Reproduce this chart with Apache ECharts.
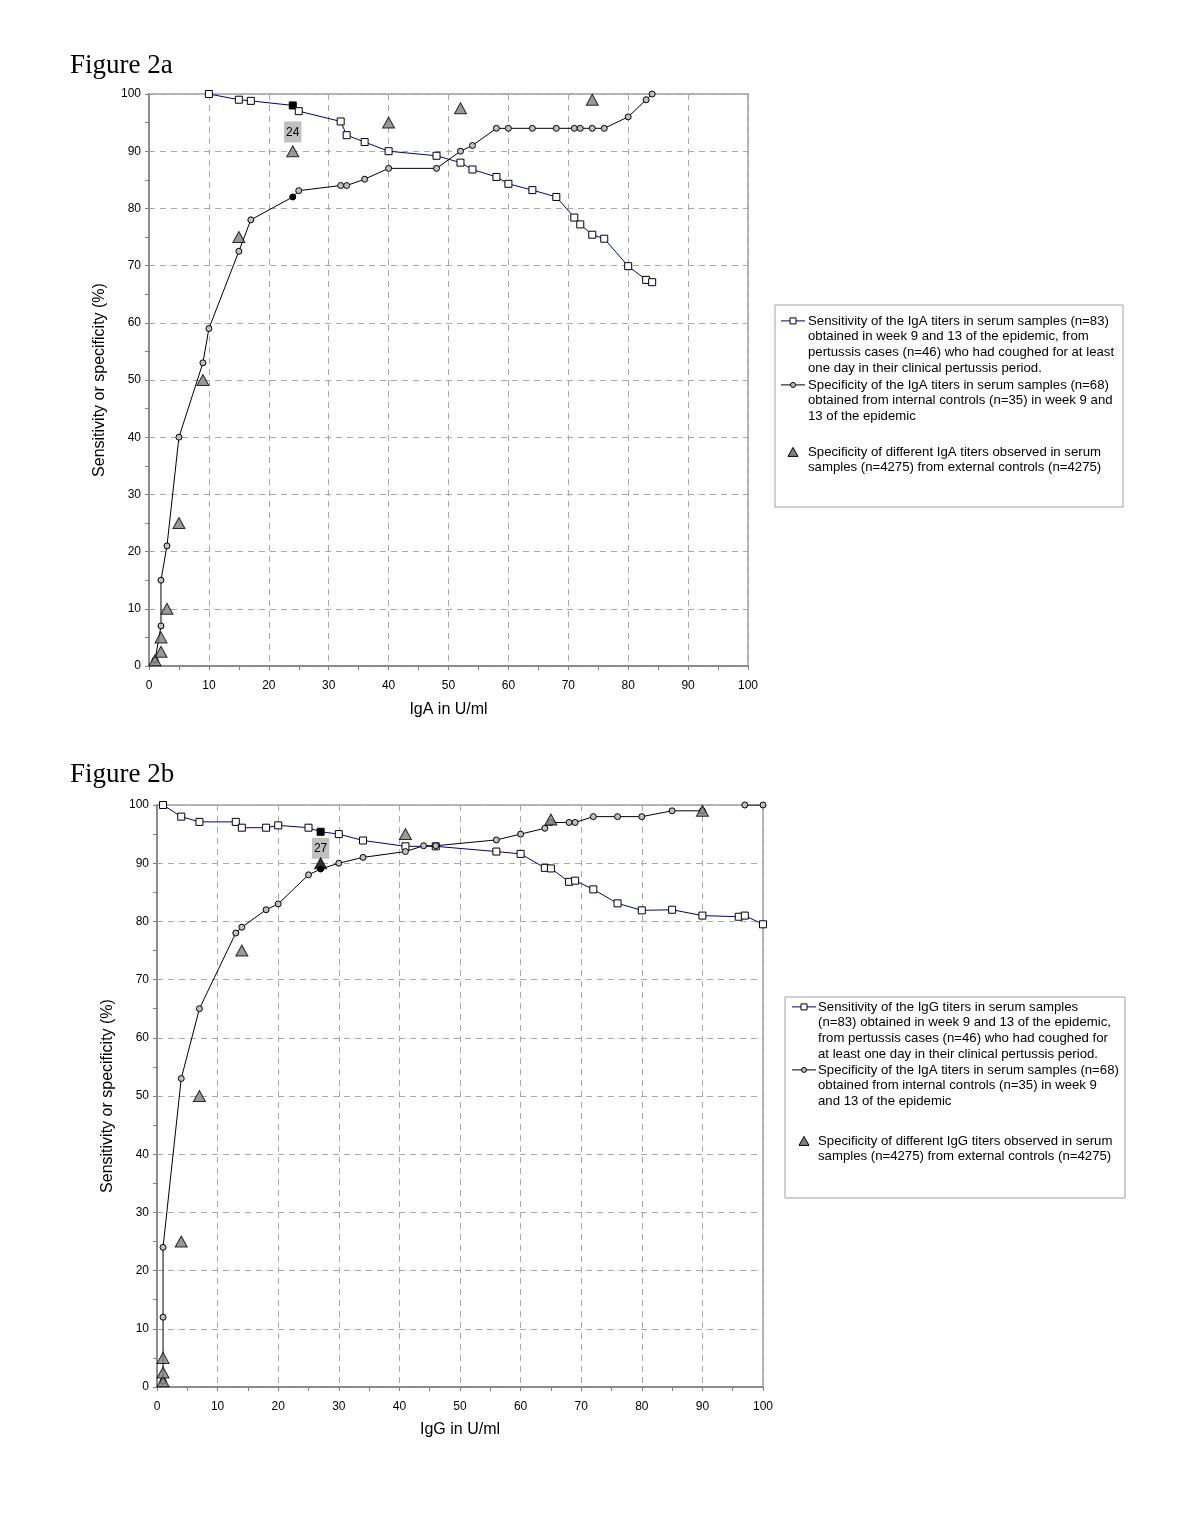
<!DOCTYPE html>
<html>
<head>
<meta charset="utf-8">
<script src="https://cdn.jsdelivr.net/npm/echarts@6/dist/echarts.min.js"></script>
<style>
html,body{margin:0;padding:0;background:#fff;}
#c{width:1200px;height:1532px;}
</style>
</head>
<body>
<div id="c"></div>
<script>
// ---------- Data (Figure 2a: IgA) ----------
const igaSensitivity = [[10,100],[15,99],[17,98.8],[24,98],[25,97],[32,95.2],[33,92.8],[36,91.6],[40,90],[48,89.2],[52,88],[54,86.8],[58,85.5],[60,84.3],[64,83.2],[68,82],[71,78.4],[72,77.2],[74,75.4],[76,74.7],[80,69.9],[83,67.5],[84,67.1]];
const igaSpecificity = [[1,1],[2,7],[2,15],[3,21],[5,40],[9,53],[10,59],[15,72.5],[17,78],[24,82],[25,83.1],[32,84],[33,84],[36,85.1],[40,87],[48,87],[52,90],[54,91],[58,94],[60,94],[64,94],[68,94],[71,94],[72,94],[74,94],[76,94],[80,96],[83,99],[84,100]];
const igaExternal = [[1,1],[2,2.5],[2,5],[3,10],[5,25],[9,50],[15,75],[24,90],[40,95],[52,97.5],[74,99]];
const igaCutoff = 24;

// ---------- Data (Figure 2b: IgG) ----------
const iggSensitivity = [[1,100],[4,98],[7,97.1],[13,97.1],[14,96.1],[18,96.1],[20,96.5],[25,96.1],[27,95.4],[30,95],[34,93.9],[41,92.9],[46,92.9],[56,92],[60,91.6],[64,89.2],[65,89.1],[68,86.8],[69,87],[72,85.5],[76,83.1],[80,81.9],[85,82],[90,81],[96,80.8],[97,81],[100,79.5]];
const iggSpecificity = [[1,1],[1,12],[1,24],[4,53],[7,65],[13,78],[14,79],[18,82],[20,83],[25,88],[27,89],[30,90],[34,91],[41,92],[44,93],[46,93],[56,94],[60,95],[64,96],[65,97],[68,97],[69,97],[72,98],[76,98],[80,98],[85,99],[90,99],null,[97,100],[100,100]];
const iggExternal = [[1,1],[1,2.5],[1,5],[4,25],[7,50],[14,75],[27,90],[41,95],[65,97.5],[90,99]];
const iggCutoff = 27;

// ---------- Axis ticks / texts ----------
const axisMin = 0, axisMax = 100, axisStep = 10;
const titles = ['Figure 2a', 'Figure 2b'];
const xNames = ['IgA in U/ml', 'IgG in U/ml'];
const yName = 'Sensitivity or specificity (%)';
const legendA = [
  ['Sensitivity of the IgA titers in serum samples (n=83)', 'obtained in week 9 and 13 of the epidemic, from', 'pertussis cases (n=46) who had coughed for at least', 'one day in their clinical pertussis period.'],
  ['Specificity of the IgA titers in serum samples (n=68)', 'obtained from internal controls (n=35) in week 9 and', '13 of the epidemic'],
  ['Specificity of different IgA titers observed in serum', 'samples (n=4275) from external controls (n=4275)']
];
const legendB = [
  ['Sensitivity of the IgG titers in serum samples', '(n=83) obtained in week 9 and 13 of the epidemic,', 'from pertussis cases (n=46) who had coughed for', 'at least one day in their clinical pertussis period.'],
  ['Specificity of the IgA titers in serum samples (n=68)', 'obtained from internal controls (n=35) in week 9', 'and 13 of the epidemic'],
  ['Specificity of different IgG titers observed in serum', 'samples (n=4275) from external controls (n=4275)']
];

const FONT = "'Liberation Sans', Arial, sans-serif";
const SERIF = "'Liberation Serif', 'Times New Roman', serif";
const SENS_COLOR = '#000080';

function mapData(arr, cutoff, filledColor, labelCfg) {
  return arr.map(function (d) {
    if (d === null) return '-';
    if (d[0] === cutoff) {
      const item = { value: d, itemStyle: { color: filledColor, borderColor: '#000' } };
      if (labelCfg) item.label = labelCfg;
      return item;
    }
    return d;
  });
}

function cutLabel(cutoff, distance) {
  return {
    show: true, position: 'bottom', distance: distance, formatter: String(cutoff),
    backgroundColor: '#c0c0c0', padding: [5, 2, 4, 2], color: '#000',
    fontFamily: FONT, fontSize: 12
  };
}

function makeX(idx, name, gap) {
  return {
    type: 'value', gridIndex: idx, min: axisMin, max: axisMax, interval: axisStep,
    name: name, nameLocation: 'middle', nameGap: gap,
    nameTextStyle: { fontFamily: FONT, fontSize: 16, color: '#000' },
    axisLine: { show: true, onZero: false, lineStyle: { color: '#808080', width: 1.5 } },
    axisTick: { show: true, length: 4, lineStyle: { color: '#808080' } },
    minorTick: { show: true, splitNumber: 2, length: 4, lineStyle: { color: '#808080' } },
    axisLabel: { fontFamily: FONT, fontSize: 12, color: '#000', margin: 14 },
    splitLine: { show: true, lineStyle: { color: '#a8a8a8', type: [6, 5], width: 1 } }
  };
}
function makeY(idx, gap) {
  return {
    type: 'value', gridIndex: idx, min: axisMin, max: axisMax, interval: axisStep,
    name: yName, nameLocation: 'middle', nameGap: gap, nameRotate: 90,
    nameTextStyle: { fontFamily: FONT, fontSize: 16, color: '#000' },
    axisLine: { show: true, onZero: false, lineStyle: { color: '#808080', width: 1.5 } },
    axisTick: { show: true, length: 4, lineStyle: { color: '#808080' } },
    minorTick: { show: true, splitNumber: 2, length: 4, lineStyle: { color: '#808080' } },
    axisLabel: { fontFamily: FONT, fontSize: 12, color: '#000', margin: 8 },
    splitLine: { show: true, lineStyle: { color: '#a8a8a8', type: [6, 5], width: 1 } }
  };
}

function seriesFor(idx, sens, spec, ext, cutoff, labelDist, blackTriangle) {
  return [
    {
      type: 'line', xAxisIndex: idx, yAxisIndex: idx, z: 3,
      data: mapData(sens, cutoff, '#000', cutLabel(cutoff, labelDist)),
      symbol: 'rect', symbolSize: 7, showAllSymbol: true,
      lineStyle: { color: SENS_COLOR, width: 1 },
      itemStyle: { color: '#fff', borderColor: '#000', borderWidth: 1 },
      animation: false, silent: true
    },
    {
      type: 'line', xAxisIndex: idx, yAxisIndex: idx, z: 4,
      data: mapData(spec, cutoff, '#000'),
      symbol: 'circle', symbolSize: 6, showAllSymbol: true, connectNulls: false,
      lineStyle: { color: '#000', width: 1 },
      itemStyle: { color: '#c0c0c0', borderColor: '#000', borderWidth: 1 },
      animation: false, silent: true
    },
    {
      type: 'scatter', xAxisIndex: idx, yAxisIndex: idx, z: 5,
      data: blackTriangle ? mapData(ext, cutoff, '#000') : ext,
      symbol: 'triangle', symbolSize: [12, 11],
      itemStyle: { color: '#808080', borderColor: '#000', borderWidth: 1 },
      animation: false, silent: true
    }
  ];
}

function legendGraphic(box, iconX, textX, lineTops, lines, lh) {
  const els = [];
  els.push({ type: 'rect', shape: { x: box[0], y: box[1], width: box[2], height: box[3] },
    style: { fill: '#fff', stroke: '#a0a0a0', lineWidth: 1 } });
  lines.forEach(function (txt, i) {
    const top = lineTops[i];
    const cy = top + lh / 2;
    if (i < 2) {
      els.push({ type: 'line', shape: { x1: iconX - 12, y1: cy, x2: iconX + 12, y2: cy },
        style: { stroke: i === 0 ? SENS_COLOR : '#000', lineWidth: 1 } });
      if (i === 0) {
        els.push({ type: 'rect', shape: { x: iconX - 3, y: cy - 3, width: 6, height: 6 },
          style: { fill: '#fff', stroke: '#000', lineWidth: 1 } });
      } else {
        els.push({ type: 'circle', shape: { cx: iconX, cy: cy, r: 2.5 },
          style: { fill: '#c0c0c0', stroke: '#000', lineWidth: 1 } });
      }
    } else {
      els.push({ type: 'polygon', shape: { points: [[iconX - 5, cy + 4.5], [iconX + 5, cy + 4.5], [iconX, cy - 4.5]] },
        style: { fill: '#808080', stroke: '#000', lineWidth: 1 } });
    }
    els.push({ type: 'text', x: textX, y: top,
      style: { text: txt.join('\n'), font: '13.2px ' + FONT, fill: '#000', lineHeight: lh, verticalAlign: 'top' } });
  });
  return els;
}

const chart = echarts.init(document.getElementById('c'), null, { renderer: 'canvas' });
chart.setOption({
  backgroundColor: '#fff',
  animation: false,
  title: [
    { text: titles[0], left: 70, top: 52, padding: 0, textStyle: { fontFamily: SERIF, fontSize: 27, fontWeight: 'normal', color: '#000' } },
    { text: titles[1], left: 70, top: 761, padding: 0, textStyle: { fontFamily: SERIF, fontSize: 27, fontWeight: 'normal', color: '#000' } }
  ],
  grid: [
    { left: 149, top: 94, width: 599, height: 572, show: true, borderColor: '#a0a0a0', borderWidth: 1.5, backgroundColor: 'transparent' },
    { left: 157, top: 805, width: 606, height: 582, show: true, borderColor: '#a0a0a0', borderWidth: 1.5, backgroundColor: 'transparent' }
  ],
  xAxis: [makeX(0, xNames[0], 36), makeX(1, xNames[1], 35)],
  yAxis: [makeY(0, 41), makeY(1, 41)],
  series: [].concat(
    seriesFor(0, igaSensitivity, igaSpecificity, igaExternal, igaCutoff, 12, false),
    seriesFor(1, iggSensitivity, iggSpecificity, iggExternal, iggCutoff, 2, true)
  ),
  graphic: [].concat(
    legendGraphic([775, 305, 348, 202], 793, 808, [313, 377, 444], legendA, 15.8),
    legendGraphic([785, 997, 340, 201], 804, 818, [999, 1062, 1133], legendB, 15.8)
  )
});
</script>
</body>
</html>
